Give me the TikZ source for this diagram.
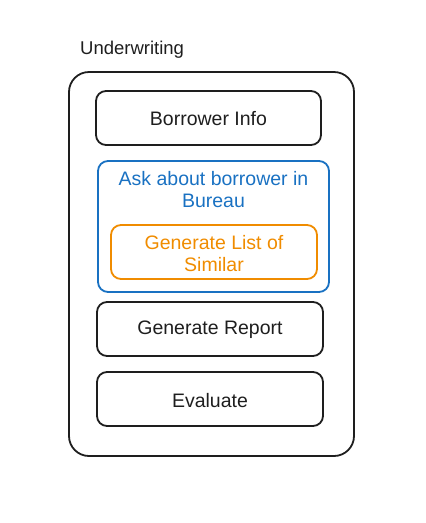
\documentclass[tikz,border=0pt]{standalone}
\usepackage{fontspec}
\setmainfont{Liberation Sans}
\definecolor{exblue}{HTML}{1971C2}
\definecolor{exorange}{HTML}{F08C00}
\definecolor{exink}{HTML}{1E1E1E}
\begin{document}
\begin{tikzpicture}[x=1pt,y=-1pt,
  box/.style={draw=exink, line width=1.8pt, rounded corners=10pt},
  lbl/.style={font=\fontsize{19.5}{22}\selectfont, text=exink, align=center}]
\useasboundingbox (0,0) rectangle (426,523);
\node[anchor=west, font=\fontsize{18.5}{22}\selectfont, text=exink, inner sep=0pt] (title) at (80,50) {Underwriting};
\draw[box, rounded corners=20pt] (69,72) rectangle (354,456);
\draw[box] (96,91) rectangle (321,145);
\node[lbl] (info) at (208.5,119) {Borrower Info};
\draw[box, draw=exblue] (98,161) rectangle (329,292);
\node[lbl, text=exblue] (ask) at (213.5,190) {Ask about borrower in\\Bureau};
\draw[box, draw=exorange] (111,225) rectangle (317,279);
\node[lbl, text=exorange] (sim) at (214,254) {Generate List of\\Similar};
\draw[box] (97,302) rectangle (323,356);
\node[lbl] (rep) at (210,330) {Generate Report};
\draw[box] (97,372) rectangle (323,426);
\node[lbl] (eval) at (210,401) {Evaluate};
\end{tikzpicture}
\end{document}
